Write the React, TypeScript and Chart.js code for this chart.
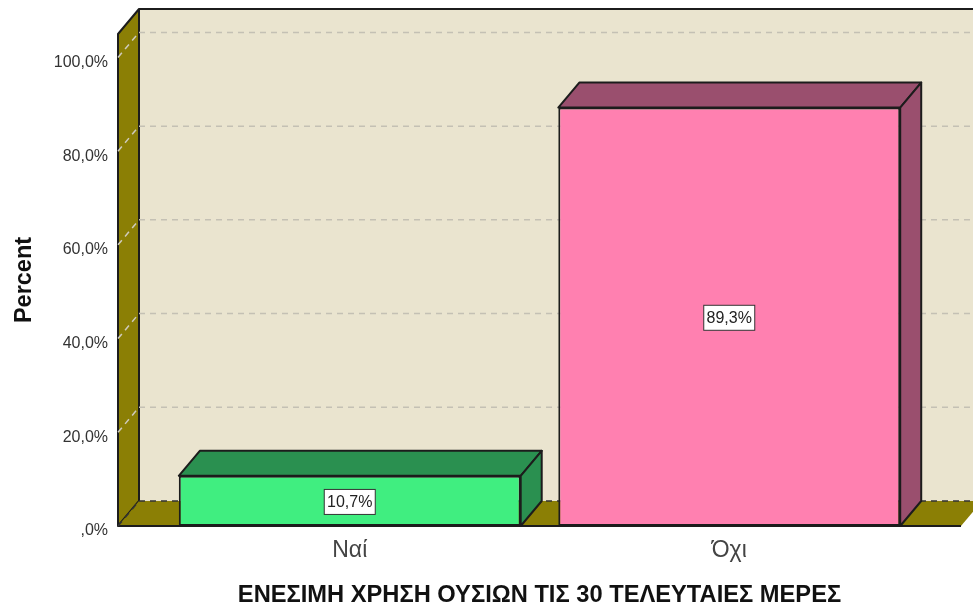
import React, { useEffect, useRef } from "react";
import { Chart, registerables } from "chart.js";

Chart.register(...registerables);

const categories = ["Ναί", "Όχι"];
const percents = [10.7, 89.3];
const percentLabels = ["10,7%", "89,3%"];
const frontColors = ["#40EE80", "#FF80B0"];
const shadeColors = ["#2A9050", "#9A4F6E"];
const yTicks = [0, 20, 40, 60, 80, 100];
const xTitle = "ΕΝΕΣΙΜΗ ΧΡΗΣΗ ΟΥΣΙΩΝ ΤΙΣ 30 ΤΕΛΕΥΤΑΙΕΣ ΜΕΡΕΣ";
const yTitle = "Percent";

const FONT = "'Liberation Sans', Arial, sans-serif";
const DX = 21;
const DY = 25;
const WALL_LEFT = 118;
const FRONT_RIGHT = 961;
const EDGE = "#1c1c1c";

function poly(ctx: CanvasRenderingContext2D, pts: number[][], fill: string, stroke = EDGE, lw = 2) {
  ctx.beginPath();
  pts.forEach(([x, y], i) => (i ? ctx.lineTo(x, y) : ctx.moveTo(x, y)));
  ctx.closePath();
  ctx.fillStyle = fill;
  ctx.fill();
  if (stroke) {
    ctx.strokeStyle = stroke;
    ctx.lineWidth = lw;
    ctx.lineJoin = "round";
    ctx.stroke();
  }
}

const box3d = {
  id: "box3d",
  beforeDatasetsDraw(chart: any) {
    const { ctx, chartArea, scales } = chart;
    const { top, bottom } = chartArea;
    const w = chart.width;
    ctx.save();
    poly(ctx, [[WALL_LEFT + DX, top - DY], [w + 20, top - DY], [w + 20, bottom - DY], [WALL_LEFT + DX, bottom - DY]], "#EAE4CF", "", 0);
    poly(ctx, [[WALL_LEFT, top], [WALL_LEFT + DX, top - DY], [WALL_LEFT + DX, bottom - DY], [WALL_LEFT, bottom]], "#8B7F05", EDGE, 2);
    poly(ctx, [[WALL_LEFT, bottom], [WALL_LEFT + DX, bottom - DY], [FRONT_RIGHT + DX, bottom - DY], [FRONT_RIGHT, bottom]], "#8B7F05", "", 0);
    ctx.strokeStyle = EDGE;
    ctx.lineWidth = 2;
    ctx.beginPath();
    ctx.moveTo(WALL_LEFT + DX, top - DY);
    ctx.lineTo(w, top - DY);
    ctx.stroke();
    ctx.beginPath();
    ctx.moveTo(WALL_LEFT, bottom);
    ctx.lineTo(FRONT_RIGHT, bottom);
    ctx.stroke();
    ctx.lineWidth = 1.5;
    ctx.setLineDash([6, 5]);
    for (const v of yTicks) {
      const y = scales.y.getPixelForValue(v);
      ctx.strokeStyle = v === 0 ? "#333" : "#C4C0B4";
      ctx.beginPath();
      ctx.moveTo(WALL_LEFT + DX, y - DY);
      ctx.lineTo(w, y - DY);
      ctx.stroke();
      ctx.strokeStyle = v === 0 ? "#333" : "#CFCBBD";
      ctx.beginPath();
      ctx.moveTo(WALL_LEFT, y);
      ctx.lineTo(WALL_LEFT + DX, y - DY);
      ctx.stroke();
    }
    ctx.setLineDash([]);
    chart.getDatasetMeta(0).data.forEach((bar: any, i: number) => {
      const l = bar.x - bar.width / 2;
      const r = bar.x + bar.width / 2;
      const t = bar.y;
      const b = bar.base;
      poly(ctx, [[l, t], [l + DX, t - DY], [r + DX, t - DY], [r, t]], shadeColors[i]);
      poly(ctx, [[r, t], [r + DX, t - DY], [r + DX, b - DY], [r, b]], shadeColors[i]);
    });
    ctx.restore();
  },
  afterDatasetsDraw(chart: any) {
    const { ctx } = chart;
    ctx.save();
    ctx.font = `16px ${FONT}`;
    ctx.textAlign = "center";
    ctx.textBaseline = "middle";
    chart.getDatasetMeta(0).data.forEach((bar: any, i: number) => {
      const cy = (bar.y + bar.base) / 2 + 1;
      ctx.fillStyle = "#fff";
      ctx.fillRect(bar.x - 25.5, cy - 12.5, 51, 25);
      ctx.strokeStyle = "#333";
      ctx.lineWidth = 1;
      ctx.strokeRect(bar.x - 25.5, cy - 12.5, 51, 25);
      ctx.fillStyle = "#222";
      ctx.fillText(percentLabels[i], bar.x, cy + 0.5);
    });
    ctx.restore();
  },
};

export default function App() {
  const ref = useRef<HTMLCanvasElement>(null);
  useEffect(() => {
    const chart = new Chart(ref.current!, {
      type: "bar",
      data: {
        labels: categories,
        datasets: [
          {
            data: percents,
            backgroundColor: frontColors,
            borderColor: EDGE,
            borderWidth: 2,
            borderSkipped: false,
            barPercentage: 0.901,
            categoryPercentage: 1,
          },
        ],
      },
      options: {
        responsive: false,
        animation: false,
        layout: { padding: { left: 0, right: 54, top: 34, bottom: 0 } },
        plugins: { legend: { display: false }, tooltip: { enabled: false } },
        scales: {
          x: {
            grid: { display: false, drawTicks: false },
            border: { display: false },
            ticks: { font: { family: FONT, size: 23 }, color: "#444", padding: 11, maxRotation: 0 },
            title: {
              display: true,
              text: xTitle,
              color: "#111",
              font: { family: FONT, size: 23.7, weight: "bold" },
              padding: { top: 0, bottom: -3 },
            },
            afterFit(s: any) {
              s.height = 81;
            },
          },
          y: {
            min: 0,
            max: 105,
            afterBuildTicks(s: any) {
              s.ticks = yTicks.map((value) => ({ value }));
            },
            grid: { display: false, drawTicks: false },
            border: { display: false },
            ticks: {
              font: { family: FONT, size: 16 },
              color: "#333",
              padding: 52,
              callback: (v: any) => (v === 0 ? ",0%" : `${v},0%`),
            },
            title: {
              display: true,
              text: yTitle,
              color: "#111",
              font: { family: FONT, size: 23.5, weight: "bold" },
              padding: { top: 10, bottom: 0 },
            },
            afterFit(s: any) {
              s.width = 160;
              s.paddingTop = 0;
              s.paddingBottom = 0;
            },
            afterUpdate(s: any) {
              const compute = s._computeLabelItems;
              s._computeLabelItems = function (area: any) {
                const items = compute.call(this, area);
                items.forEach((it: any) => {
                  it.options.translation = [it.options.translation[0], it.options.translation[1] + 2.5];
                });
                return items;
              };
            },
          },
        },
      },
      plugins: [box3d],
    } as any);
    return () => chart.destroy();
  }, []);
  return (
    <div style={{ position: "absolute", left: 0, top: 0, width: 973, height: 607, overflow: "hidden" }}>
      <canvas ref={ref} width={973} height={607} style={{ display: "block" }} />
    </div>
  );
}
